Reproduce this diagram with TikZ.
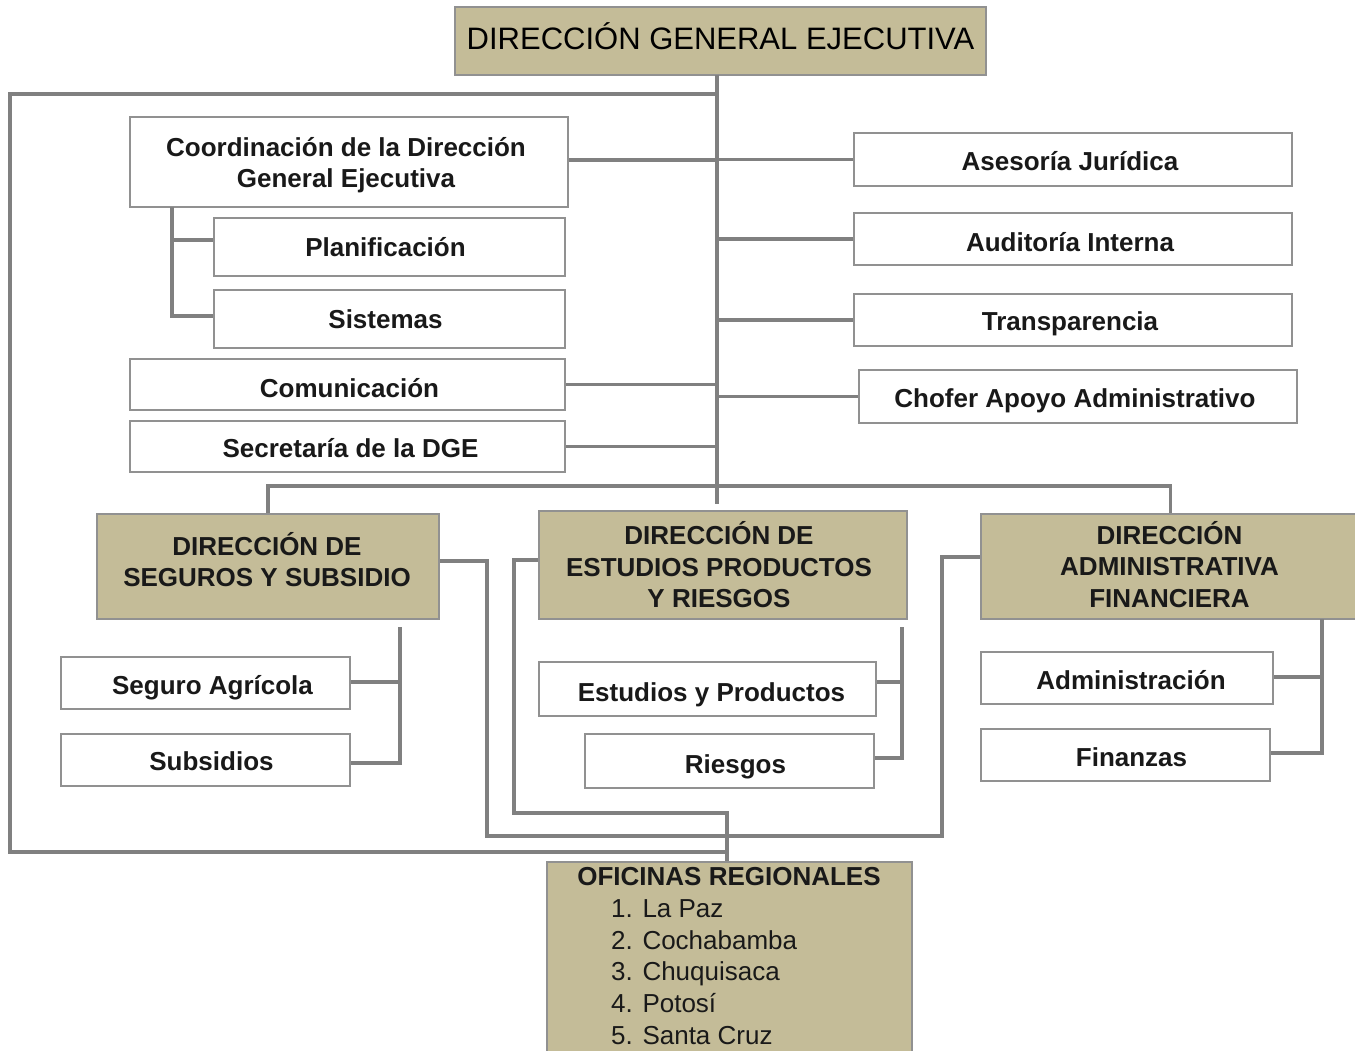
\documentclass[tikz,border=0pt]{standalone}
\usepackage{fontspec}
\setmainfont{Liberation Sans}
\usetikzlibrary{calc}
\definecolor{tanfill}{RGB}{196,188,152}
\definecolor{lngray}{RGB}{128,128,128}
\definecolor{bdgray}{RGB}{145,145,145}
\definecolor{txt}{RGB}{25,25,25}
\begin{document}
\begin{tikzpicture}[x=1pt,y=-1pt,
  box/.style={draw=bdgray, line width=2pt, inner sep=0pt},
  wbox/.style={box, fill=white},
  tbox/.style={box, fill=tanfill},
  lbl/.style={inner sep=0pt, align=center, text=txt, font=\bfseries\fontsize{26}{31.5}\selectfont},
  conn/.style={draw=lngray, line width=3.5pt},
  plain/.style={inner sep=0pt, text=txt}
]
\useasboundingbox (0,0) rectangle (1355,1051);

% ---------- boxes ----------
\node[tbox, minimum width=531, minimum height=68] (dge) at (720.5,41) {};
\node[plain, text=black, font=\fontsize{31}{36}\selectfont] (dgeT) at (720.5,36) {DIRECCIÓN GENERAL EJECUTIVA};

\node[wbox, minimum width=438, minimum height=90] (coord) at (349,162) {};
\node[wbox, minimum width=351, minimum height=58] (plan) at (389.5,247) {};
\node[wbox, minimum width=351, minimum height=58] (sis) at (389.5,319) {};
\node[wbox, minimum width=435, minimum height=51] (com) at (347.5,384.5) {};
\node[wbox, minimum width=435, minimum height=51] (sec) at (347.5,446.5) {};

\node[wbox, minimum width=438, minimum height=53] (ase) at (1073,159.5) {};
\node[wbox, minimum width=438, minimum height=52] (aud) at (1073,239) {};
\node[wbox, minimum width=438, minimum height=52] (tra) at (1073,320) {};
\node[wbox, minimum width=438, minimum height=53] (cho) at (1078,396.5) {};

\node[tbox, minimum width=342, minimum height=105] (seg) at (268,566.5) {};
\node[tbox, minimum width=368, minimum height=108] (est) at (723,565) {};
\node[tbox, minimum width=379, minimum height=105] (adm) at (1170.5,566.5) {};

\node[wbox, minimum width=289, minimum height=52] (sa) at (205.5,683) {};
\node[wbox, minimum width=289, minimum height=52] (sub) at (205.5,760) {};
\node[wbox, minimum width=337, minimum height=54] (ep) at (707.5,689) {};
\node[wbox, minimum width=289, minimum height=54] (rie) at (729.5,761) {};
\node[wbox, minimum width=292, minimum height=52] (admi) at (1127,678) {};
\node[wbox, minimum width=289, minimum height=52] (fin) at (1125.5,755) {};

\node[tbox, minimum width=365, minimum height=200] (ofi) at (729.5,962) {};

% ---------- texts ----------
\node[lbl] (coordT) at ($(coord)+(-3,3)$) {Coordinación de la Dirección\\General Ejecutiva};
\node[lbl] (planT) at ($(plan)+(-4,0)$) {Planificación};
\node[lbl] (sisT) at ($(sis)+(-4,0)$) {Sistemas};
\node[lbl] (comT) at ($(com)+(2,4)$) {Comunicación};
\node[lbl] (secT) at ($(sec)+(3,2)$) {Secretaría de la DGE};
\node[lbl] (aseT) at ($(ase)+(-3,2)$) {Asesoría Jurídica};
\node[lbl] (audT) at ($(aud)+(-3,3)$) {Auditoría Interna};
\node[lbl] (traT) at ($(tra)+(-3,4)$) {Transparencia};
\node[lbl] (choT) at ($(cho)+(-3,4)$) {Chofer Apoyo Administrativo};
\node[lbl] (segT) at ($(seg)+(-1,-7)$) {DIRECCIÓN DE\\SEGUROS Y SUBSIDIO};
\node[lbl] (estT) at ($(est)+(-4,0)$) {DIRECCIÓN DE\\ESTUDIOS PRODUCTOS\\Y RIESGOS};
\node[lbl] (admT) at ($(adm)+(-1,-2)$) {DIRECCIÓN\\ADMINISTRATIVA\\FINANCIERA};
\node[lbl] (saT) at ($(sa)+(7,5)$) {Seguro Agrícola};
\node[lbl] (subT) at ($(sub)+(6,1)$) {Subsidios};
\node[lbl] (epT) at ($(ep)+(4,6)$) {Estudios y Productos};
\node[lbl] (rieT) at ($(rie)+(6,6)$) {Riesgos};
\node[lbl] (admiT) at ($(admi)+(4,2)$) {Administración};
\node[lbl] (finT) at ($(fin)+(6,2)$) {Finanzas};

\node[lbl] (ofiT) at (729,877) {OFICINAS REGIONALES};
\node[plain, anchor=west, align=left, font=\fontsize{26}{31.8}\selectfont] (ofiL) at (611,972)
  {1. La Paz\\2. Cochabamba\\3. Chuquisaca\\4. Potosí\\5. Santa Cruz};

% ---------- coordinates ----------
\coordinate (sT) at (717,75);
\coordinate (sB) at (717,504);
\coordinate (o1) at (717,94);
\coordinate (o2) at (10,852);
\coordinate (o3) at (727,852);
\coordinate (cj) at (172,207);
\coordinate (hb) at (717,486);
\coordinate (sv) at (400,627);
\coordinate (ev) at (902,627);
\coordinate (av) at (1322,619);
\coordinate (k1) at (487,836);
\coordinate (k2) at (942,836);
\coordinate (k3) at (514,813);
\coordinate (k4) at (727,813);

% ---------- connectors ----------
\draw[conn] (sT) -- (sB);
\draw[conn] (o1) -| (o2) -- (o3);
\draw[conn] ($(coord.east)+(0,-2)$) -- ($(coord.east -| sT)+(0,-2)$);
\draw[conn] (com.east) -- (com.east -| sT);
\draw[conn] (sec.east) -- (sec.east -| sT);
\draw[conn] (ase.west) -- (ase.west -| sT);
\draw[conn] (aud.west) -- (aud.west -| sT);
\draw[conn] (tra.west) -- (tra.west -| sT);
\draw[conn] (cho.west) -- (cho.west -| sT);

\draw[conn] (cj) |- ($(sis.west)+(0,-3)$);
\draw[conn] ($(cj |- plan.west)+(0,-7)$) -- ($(plan.west)+(0,-7)$);

\draw[conn] (seg.north) |- (hb) -| (adm.north);

\draw[conn] (sv) |- ($(sub.east)+(0,3)$);
\draw[conn] ($(sa.east)+(0,-1)$) -- ($(sa.east -| sv)+(0,-1)$);
\draw[conn] (ev) |- ($(rie.east)+(0,-3)$);
\draw[conn] ($(ep.east)+(0,-7)$) -- ($(ep.east -| ev)+(0,-7)$);
\draw[conn] (av) |- ($(fin.east)+(0,-2)$);
\draw[conn] ($(admi.east)+(0,-1)$) -- ($(admi.east -| av)+(0,-1)$);

\draw[conn] ($(seg.east)+(0,-5.5)$) -| (k1) -- (k2) |- ($(adm.west)+(0,-9.5)$);
\draw[conn] ($(est.west)+(0,-5)$) -| (k3) -- (k4) -- (k4 |- ofi.north);
\end{tikzpicture}
\end{document}
